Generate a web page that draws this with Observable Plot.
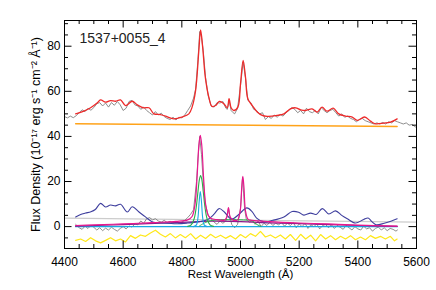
<!DOCTYPE html>
<html><head><meta charset="utf-8">
<script src="https://cdn.jsdelivr.net/npm/d3@7"></script>
<script src="https://cdn.jsdelivr.net/npm/@observablehq/plot@0.6"></script>
<style>body{margin:0;background:#fff}</style>
</head><body><div id="chart"></div><script>
const objectName = "1537+0055_4";
const xLabel = "Rest Wavelength (Å)";
const yLabel = "Flux Density (10⁻¹⁷ erg s⁻¹ cm⁻² Å⁻¹)";
const xTicks = [4400, 4600, 4800, 5000, 5200, 5400, 5600];
const yTicks = [0, 20, 40, 60, 80];

// observed spectrum (upper)
const observed = [[4400,48.8],[4410,48.2],[4420,49.0],[4430,48.3],[4440,49.2],[4450,50.5],[4460,51.8],[4470,51.0],[4480,52.5],[4490,51.6],[4500,52.8],[4510,54.5],[4520,55.0],[4530,53.5],[4540,54.8],[4550,53.0],[4560,55.0],[4570,53.8],[4580,55.5],[4590,54.0],[4600,51.5],[4610,52.5],[4620,55.5],[4630,56.0],[4640,54.0],[4650,53.5],[4660,52.0],[4670,53.0],[4680,51.5],[4690,50.5],[4700,49.5],[4710,51.0],[4720,49.5],[4730,50.3],[4740,48.8],[4750,48.0],[4760,47.5],[4770,48.5],[4780,47.3],[4790,48.5],[4800,48.2],[4810,49.5],[4820,51.5],[4830,53.5],[4840,57.0],[4847,61.0],[4855,74.0],[4861,86.5],[4867,84.0],[4873,78.0],[4881,66.0],[4890,58.0],[4900,53.5],[4910,53.0],[4920,55.0],[4930,54.8],[4940,55.5],[4950,52.5],[4955,52.0],[4961,56.0],[4968,51.5],[4975,50.5],[4980,50.0],[4990,52.5],[5000,62.5],[5009,73.0],[5017,66.0],[5025,56.0],[5035,55.0],[5045,52.0],[5055,51.5],[5065,50.0],[5075,50.5],[5085,47.5],[5095,48.8],[5105,48.0],[5115,49.5],[5125,48.5],[5135,49.8],[5145,49.0],[5155,50.5],[5165,51.5],[5175,52.8],[5185,52.0],[5195,50.5],[5205,51.5],[5215,50.0],[5225,52.5],[5235,51.0],[5245,50.5],[5255,51.5],[5265,50.0],[5275,52.8],[5285,51.5],[5295,50.5],[5305,51.5],[5315,52.0],[5325,50.5],[5335,49.0],[5345,50.0],[5355,48.5],[5365,49.0],[5375,48.0],[5385,47.5],[5395,46.5],[5405,47.5],[5415,48.0],[5425,47.0],[5435,46.5],[5445,46.0],[5455,45.5],[5465,46.0],[5475,45.5],[5485,46.2],[5495,45.5],[5505,46.5],[5515,46.0],[5525,47.0],[5535,46.5],[5545,46.0],[5555,45.5],[5565,46.0],[5575,45.0],[5585,45.3],[5595,44.3],[5600,44.0]];

// total model (upper)
const model = [[4438,50.0],[4466,51.2],[4489,52.7],[4511,54.8],[4523,56.2],[4540,55.2],[4557,55.9],[4574,55.6],[4591,56.2],[4608,53.7],[4631,55.6],[4648,54.0],[4670,52.7],[4688,52.7],[4705,50.0],[4727,49.7],[4744,49.0],[4773,47.8],[4801,48.6],[4824,50.0],[4835,53.0],[4847,60.4],[4858,78.1],[4864,87.2],[4871,79.6],[4880,66.3],[4892,57.4],[4903,53.3],[4915,53.7],[4928,55.5],[4943,54.5],[4955,52.7],[4961,56.7],[4968,52.7],[4977,51.5],[4991,53.0],[5000,63.3],[5009,73.7],[5017,66.3],[5025,56.7],[5040,53.7],[5057,50.8],[5074,49.3],[5091,48.9],[5125,49.3],[5148,50.0],[5170,52.2],[5188,52.7],[5205,51.8],[5222,51.5],[5244,52.2],[5261,50.8],[5278,53.0],[5295,51.2],[5316,52.5],[5335,50.0],[5358,49.0],[5381,48.6],[5398,47.1],[5423,48.6],[5443,46.8],[5460,45.6],[5489,45.9],[5511,46.3],[5534,47.8]];

// power-law continuum
const powerLaw = [[4438,45.6],[5534,44.4]];

// host / constant component
const host = [[4400,3.8],[5600,2.0]];

// continuum-subtracted spectrum (lower)
const subtracted = [[4438,1.0],[4450,-0.5],[4460,-1.2],[4470,0.2],[4480,-0.8],[4490,0.5],[4500,-0.3],[4510,-1.5],[4520,-0.5],[4530,-1.8],[4540,-0.7],[4550,-1.5],[4560,-0.3],[4570,-1.2],[4580,-2.0],[4590,-0.8],[4600,0.0],[4610,-1.0],[4620,0.3],[4630,-0.2],[4640,1.2],[4650,0.8],[4660,2.5],[4670,1.5],[4680,3.5],[4690,4.0],[4700,3.0],[4710,3.5],[4720,2.5],[4730,2.0],[4740,2.8],[4750,1.8],[4760,2.4],[4770,1.5],[4780,2.3],[4790,1.6],[4800,2.0],[4810,2.8],[4820,4.0],[4830,5.5],[4840,7.5],[4850,20],[4855,30],[4861,40],[4867,32],[4873,20],[4880,10],[4890,5.0],[4900,3.5],[4910,2.0],[4920,1.0],[4930,2.5],[4940,1.5],[4950,2.5],[4955,5],[4959,8.0],[4963,5],[4970,1.0],[4980,-0.5],[4990,1.0],[5000,8],[5007,22],[5014,8],[5020,3.0],[5030,2.0],[5040,2.5],[5050,1.0],[5060,2.5],[5070,0.0],[5080,1.5],[5090,0.5],[5100,2.0],[5110,0.5],[5120,1.5],[5130,0.8],[5140,1.8],[5150,0.2],[5160,1.5],[5170,0.5],[5180,1.8],[5190,-0.5],[5200,1.2],[5210,0.0],[5220,1.5],[5230,-0.8],[5240,0.8],[5250,0.0],[5260,1.2],[5270,-1.0],[5280,0.5],[5290,1.0],[5300,-0.5],[5310,0.8],[5320,-0.8],[5330,0.5],[5340,-0.3],[5350,-1.2],[5360,0.5],[5370,-0.5],[5380,-1.5],[5390,0.0],[5400,-1.0],[5410,-1.5],[5420,0.2],[5430,-1.0],[5440,-0.5],[5450,-2.0],[5460,-0.8],[5470,-0.2],[5480,-1.5],[5490,-0.5],[5500,-1.8],[5510,-0.8],[5520,-1.2],[5530,-2.0],[5535,-1.5]];

// Fe II template
const feII = [[4438,4.3],[4455,5.4],[4472,6.0],[4490,6.6],[4505,7.6],[4523,10.3],[4540,8.7],[4557,9.6],[4574,9.2],[4591,9.9],[4614,6.5],[4631,8.8],[4653,6.6],[4676,4.3],[4699,2.2],[4739,1.6],[4784,1.3],[4820,1.6],[4860,2.2],[4890,3.3],[4910,5.5],[4927,8.0],[4945,6.5],[4965,3.6],[4975,3.5],[4995,5.5],[5022,8.3],[5040,6.5],[5055,3.8],[5080,2.1],[5110,2.8],[5148,4.3],[5176,6.7],[5198,6.4],[5216,5.1],[5239,6.0],[5258,5.4],[5279,8.0],[5301,5.6],[5324,7.0],[5345,5.0],[5364,3.5],[5392,1.6],[5420,3.2],[5435,3.8],[5448,2.2],[5462,0.8],[5490,1.5],[5515,2.5],[5534,3.5]];

// very broad component
const veryBroad = [[4438,0.2],[4600,0.9],[4800,1.9],[4900,2.4],[5000,2.2],[5100,1.7],[5200,1.3],[5300,0.9],[5400,0.5],[5534,0.1]];

// total emission-line model
const lineModel = [[4438,0.5],[4500,0.8],[4600,1.2],[4700,1.8],[4780,2.3],[4820,3.0],[4835,4.5],[4845,10],[4852,22],[4858,36],[4863,40.5],[4868,36],[4874,22],[4881,10],[4890,5.0],[4900,3.6],[4920,3.1],[4945,2.9],[4953,4.2],[4959,8.4],[4965,4.2],[4975,2.9],[4990,3.0],[4999,7],[5004,17],[5008,22.3],[5012,17],[5017,7],[5026,3.2],[5040,2.8],[5100,2.2],[5200,1.6],[5300,1.2],[5400,0.7],[5534,0.2]];

// broad H-beta
const hbBroad = [[4820,0.1],[4832,0.8],[4842,3.5],[4849,8.5],[4855,15.5],[4860,21.0],[4864,22.7],[4868,21.0],[4873,15.5],[4879,8.5],[4886,3.5],[4896,0.8],[4908,0.1]];
// broad wing / plateau
const hbWing = [[4860,0.3],[4880,1.8],[4905,2.8],[4960,3.1],[5010,3.0],[5040,2.6],[5055,1.0],[5070,0.1]];
// narrow H-beta
const hbNarrow = [[4840,0],[4850,0.8],[4855,4],[4859,11],[4863,15.6],[4867,11],[4871,4],[4876,0.8],[4886,0]];
const zeroLevel = [[4438,0],[5534,0]];

// residuals (offset)
const residual = [[4438,-6.1],[4455,-5.5],[4472,-6.6],[4489,-4.9],[4506,-6.3],[4523,-7.2],[4540,-6.1],[4557,-4.9],[4574,-6.3],[4591,-5.5],[4608,-6.8],[4625,-4.0],[4642,-5.2],[4659,-3.7],[4676,-4.3],[4693,-2.8],[4710,-1.6],[4727,-3.4],[4744,-4.6],[4761,-3.1],[4778,-5.0],[4795,-3.5],[4812,-4.9],[4830,-3.1],[4847,-5.5],[4864,-3.8],[4881,-5.3],[4898,-3.4],[4915,-4.9],[4932,-3.8],[4949,-5.2],[4966,-4.0],[4983,-5.5],[5000,-3.5],[5017,-4.9],[5034,-3.1],[5051,-4.3],[5068,-2.1],[5085,-4.6],[5102,-3.7],[5119,-5.0],[5136,-3.7],[5153,-5.5],[5170,-3.5],[5188,-6.1],[5205,-3.4],[5222,-5.5],[5239,-3.8],[5256,-6.3],[5273,-3.5],[5290,-5.5],[5307,-4.0],[5324,-5.8],[5341,-4.3],[5358,-5.5],[5375,-4.0],[5392,-5.8],[5409,-4.6],[5426,-5.8],[5443,-4.0],[5460,-5.2],[5477,-4.3],[5494,-5.5],[5511,-4.3],[5525,-6.3],[5534,-5.5]];

const W = 436, H = 290, mL = 64, mR = 20, mT = 20, mB = 42;
const xDomain = [4400, 5600], yDomain = [-9.7, 91.4];
const xPerPx = (xDomain[1] - xDomain[0]) / (W - mL - mR);
const yPerPx = (yDomain[1] - yDomain[0]) / (H - mT - mB);
const xMinor = d3.range(4450, 5600, 50).filter(d => d % 200 !== 0);
const yMinor = d3.range(-5, 91, 5).filter(d => d % 20 !== 0);
const majLen = 7.5, minLen = 4;

const ln = (data, stroke, sw = 1.1, curve = "catmull-rom") =>
  Plot.line(data, {x: d => d[0], y: d => d[1], stroke, strokeWidth: sw, curve});

const xt = (ticks, len) => [
  Plot.ruleX(ticks, {x: d => d, y1: yDomain[0], y2: yDomain[0] + len * yPerPx, stroke: "#000"}),
  Plot.ruleX(ticks, {x: d => d, y1: yDomain[1], y2: yDomain[1] - len * yPerPx, stroke: "#000"})
];
const yt = (ticks, len) => [
  Plot.ruleY(ticks, {y: d => d, x1: xDomain[0], x2: xDomain[0] + len * xPerPx, stroke: "#000"}),
  Plot.ruleY(ticks, {y: d => d, x1: xDomain[1], x2: xDomain[1] - len * xPerPx, stroke: "#000"})
];

const chart = Plot.plot({
  width: W, height: H,
  marginLeft: mL, marginRight: mR, marginTop: mT, marginBottom: mB,
  style: {fontFamily: "'Liberation Sans', Arial, sans-serif", fontSize: "12px", color: "#000", background: "#fff"},
  x: {domain: xDomain, ticks: xTicks, tickSize: 0, tickPadding: 9, tickFormat: d => `${d}`, label: null},
  y: {domain: yDomain, ticks: yTicks, tickSize: 0, tickPadding: 4, tickFormat: d => `${d}`, label: null},
  marks: [
    ln(host, "#cccccc", 1.2, "linear"),
    ln(subtracted, "#808080", 0.9, "linear"),
    ln(zeroLevel, "#19a9e3", 1.4, "linear"),
    ln(veryBroad, "#8b1a8b", 1.2),
    ln(feII, "#3f3f9e", 1.1),
    ln(hbWing, "#29b04a", 1.0),
    ln(hbBroad, "#29b04a", 1.1),
    ln(hbNarrow, "#19a9e3", 1.1),
    ln(lineModel, "#e8168d", 1.2),
    ln(residual, "#ffe81a", 1.2, "linear"),
    ln(observed, "#808080", 0.9, "linear"),
    ln(powerLaw, "#ffa31a", 1.4, "linear"),
    ln(model, "#ee2a2a", 1.3),
    ...xt(xTicks, majLen), ...xt(xMinor, minLen),
    ...yt(yTicks, majLen), ...yt(yMinor, minLen),
    Plot.frame({stroke: "#000"}),
    Plot.text([objectName], {frameAnchor: "top-left", dx: 15, dy: 13, lineAnchor: "top", textAnchor: "start", fontSize: 14, fill: "#222"}),
    Plot.text([xLabel], {frameAnchor: "bottom", dy: 26, lineAnchor: "middle", textAnchor: "middle", fontSize: 11.5}),
    Plot.text([yLabel], {frameAnchor: "left", dx: -29, rotate: -90, lineAnchor: "middle", textAnchor: "middle", fontSize: 12.5})
  ]
});
document.getElementById("chart").appendChild(chart);
</script></body></html>
